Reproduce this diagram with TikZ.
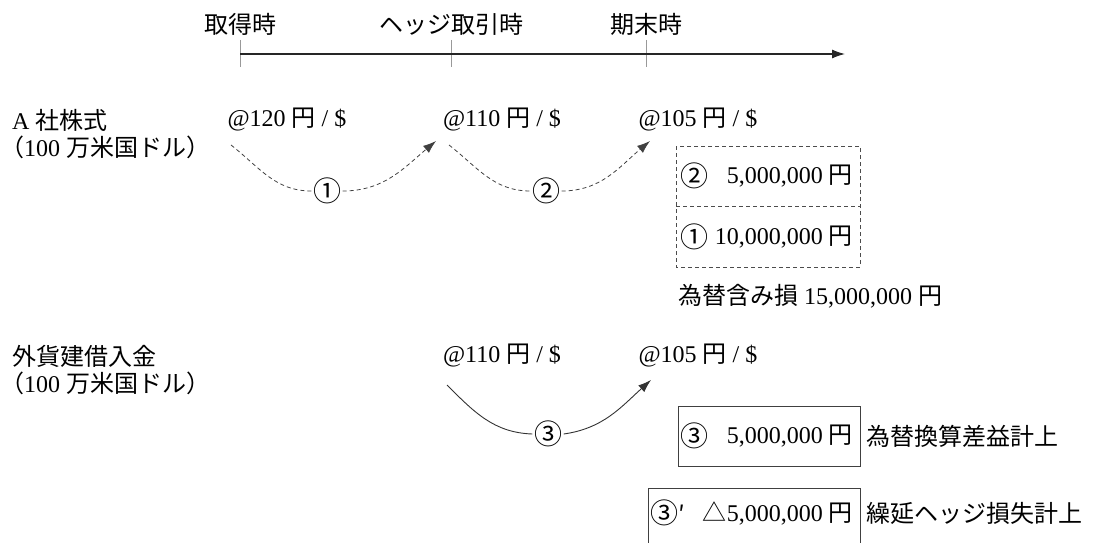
\documentclass[tikz,border=0pt]{standalone}
\usepackage{fontspec}
\setmainfont{Liberation Serif}
\newfontfamily\jp{Noto Sans CJK JP}
\newcommand\circnum[1]{{\fontsize{28}{28}\selectfont\jp #1}}
\usetikzlibrary{arrows.meta}
\tikzset{
  txt/.style={font=\fontsize{24}{28}\selectfont, inner sep=0pt, text=black},
  circ/.style={txt, inner sep=1.5pt},
  tickline/.style={draw=gray!80, line width=0.9pt},
  axis/.style={draw=black!85, line width=1.1pt, -{Latex[length=13pt,width=9pt]}},
  dasharc/.style={draw=black!75, line width=0.8pt, dash pattern=on 4pt off 3pt},
  solidarc/.style={draw=black!80, line width=0.9pt},
  tipend/.style={-{Latex[length=13pt,width=9pt]}},
  dbox/.style={draw=black!70, line width=0.8pt, dash pattern=on 4pt off 3pt},
  sbox/.style={draw=black!75, line width=0.9pt},
}
\begin{document}
\begin{tikzpicture}[x=1pt,y=-1pt]
\useasboundingbox (0,0) rectangle (1093,543);

% timeline
\node[txt] (t1) at (240,24) {\jp 取得時};
\node[txt] (t2) at (451,24) {\jp ヘッジ取引時};
\node[txt] (t3) at (646,24) {\jp 期末時};
\coordinate (k1a) at (240,40); \coordinate (k1b) at (240,67);
\coordinate (k2a) at (451,40); \coordinate (k2b) at (451,67);
\coordinate (k3a) at (646,40); \coordinate (k3b) at (646,67);
\coordinate (ax0) at (240,54); \coordinate (ax1) at (845,54);
\draw[tickline] (k1a) -- (k1b);
\draw[tickline] (k2a) -- (k2b);
\draw[tickline] (k3a) -- (k3b);
\draw[axis] (ax0) -- (ax1);

% row A
\node[txt, anchor=west] (a1) at (12,120) {A {\jp 社株式}};
\node[txt, anchor=west] (a2) at (0,147) {{\jp （}100 {\jp 万米国ドル）}};
\node[txt] (r1) at (287,120) {@120 {\jp 円} / \$};
\node[txt] (r2) at (502,120) {@110 {\jp 円} / \$};
\node[txt] (r3) at (698,120) {@105 {\jp 円} / \$};

\node[circ] (c1) at (327,191) {\circnum{①}};
\node[circ] (c2) at (546,191) {\circnum{②}};
\coordinate (s1) at (231,145); \coordinate (e1) at (436,141);
\coordinate (s2) at (449,145); \coordinate (e2) at (650,141);
\draw[dasharc] (s1) to[out=-38,in=180] (c1.west);
\draw[dasharc, tipend] (c1.east) to[out=0,in=-140] (e1);
\draw[dasharc] (s2) to[out=-38,in=180] (c2.west);
\draw[dasharc, tipend] (c2.east) to[out=0,in=-140] (e2);

% dashed box
\draw[dbox] (676,146) rectangle (860,267);
\draw[dbox] (676,206) -- (860,206);
\node[txt, anchor=west] (b2n) at (680,176) {\circnum{②}};
\node[txt, anchor=east] (b2v) at (853,176) {5,000,000 {\jp 円}};
\node[txt, anchor=west] (b1n) at (680,237) {\circnum{①}};
\node[txt, anchor=east] (b1v) at (853,237) {10,000,000 {\jp 円}};
\node[txt, anchor=west] (tot) at (678,296) {{\jp 為替含み損} 15,000,000 {\jp 円}};

% row B
\node[txt, anchor=west] (l1) at (12,356) {\jp 外貨建借入金};
\node[txt, anchor=west] (l2) at (0,383) {{\jp （}100 {\jp 万米国ドル）}};
\node[txt] (q2) at (502,356) {@110 {\jp 円} / \$};
\node[txt] (q3) at (698,356) {@105 {\jp 円} / \$};

\node[circ] (c3) at (548,434) {\circnum{③}};
\coordinate (s3) at (447,385); \coordinate (e3) at (651,380);
\draw[solidarc] (s3) to[out=-45,in=178] (c3.west);
\draw[solidarc, tipend] (c3.east) to[out=8,in=-138] (e3);

% box 3
\draw[sbox] (678,406) rectangle (860,466);
\node[txt, anchor=west] (b3n) at (680,436) {\circnum{③}};
\node[txt, anchor=east] (b3v) at (853,436) {5,000,000 {\jp 円}};
\node[txt, anchor=west] (b3t) at (866,436) {\jp 為替換算差益計上};

% box 3'
\draw[sbox] (648,543) -- (648,488) -- (860,488) -- (860,543);
\node[txt, anchor=west] (b4n) at (650,513) {\circnum{③}{\jp ′}};
\node[txt, anchor=east] (b4v) at (853,513) {{\jp △}5,000,000 {\jp 円}};
\node[txt, anchor=west] (b4t) at (866,513) {\jp 繰延ヘッジ損失計上};
\end{tikzpicture}
\end{document}
